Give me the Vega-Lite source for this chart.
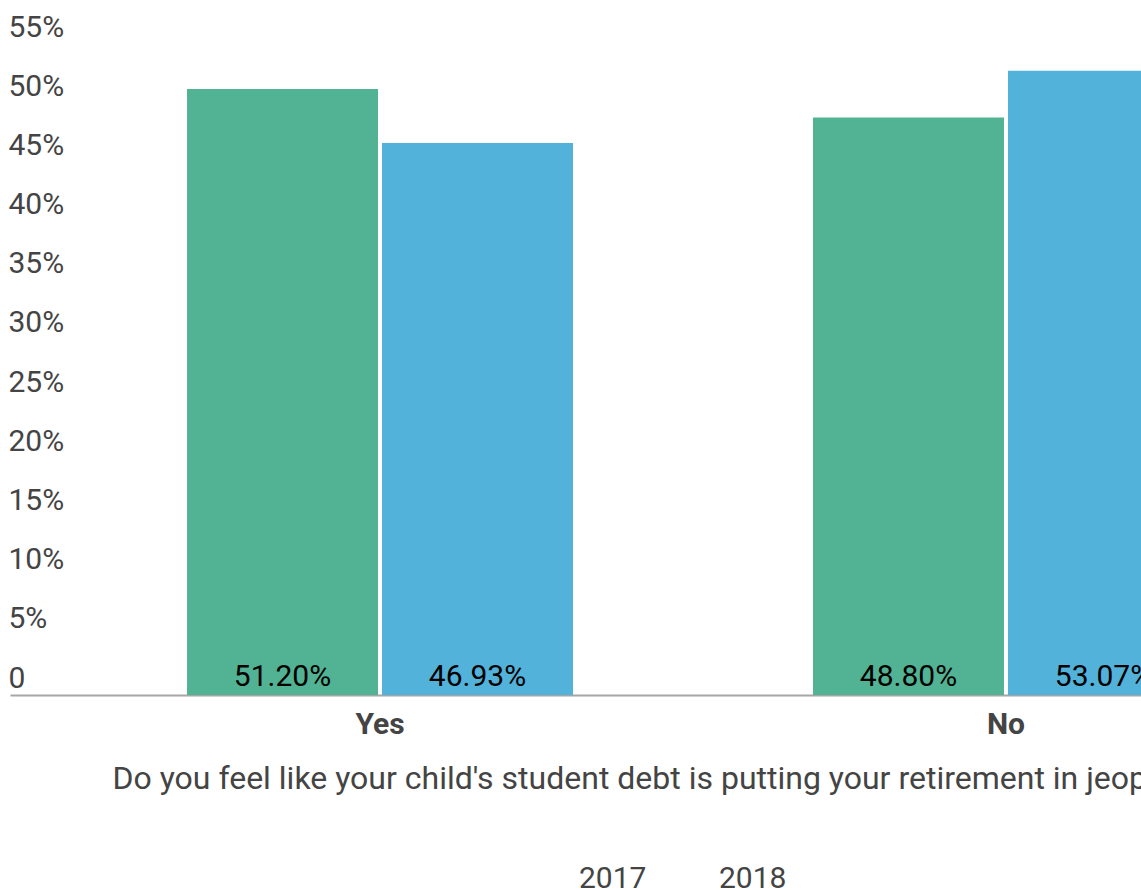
{
  "$schema": "https://vega.github.io/schema/vega-lite/v6.json",
  "width": 1131,
  "height": 651,
  "autosize": {"type": "none"},
  "padding": {"left": 10, "top": 44, "right": 0, "bottom": 195},
  "background": "white",
  "config": {
    "font": "Roboto",
    "view": {"stroke": null}
  },
  "data": {
    "values": [
      {"answer": "Yes", "year": "2017", "value": 0.512, "label": "51.20%"},
      {"answer": "Yes", "year": "2018", "value": 0.4664, "label": "46.93%"},
      {"answer": "No", "year": "2017", "value": 0.488, "label": "48.80%"},
      {"answer": "No", "year": "2018", "value": 0.5273, "label": "53.07%"}
    ]
  },
  "encoding": {
    "x": {
      "field": "answer",
      "type": "nominal",
      "sort": ["Yes", "No"],
      "scale": {"range": [0, 1366], "paddingInner": 0.3834, "paddingOuter": 0.2828},
      "axis": {
        "title": "Do you feel like your child's student debt is putting your retirement in jeopardy?",
        "titleFontSize": 32,
        "titleFontWeight": "normal",
        "titleColor": "#444444",
        "titleAnchor": "start",
        "titleAlign": "left",
        "titleX": 102,
        "titlePadding": 24,
        "labelAngle": 0,
        "labelFontSize": 30,
        "labelFontWeight": "bold",
        "labelColor": "#444444",
        "labelPadding": 14,
        "ticks": false,
        "domain": true,
        "domainColor": "#a6a6a6",
        "domainWidth": 2,
        "grid": false
      }
    },
    "xOffset": {
      "field": "year",
      "type": "nominal",
      "scale": {"paddingInner": 0.0205, "paddingOuter": 0}
    }
  },
  "layer": [
    {
      "mark": {"type": "bar"},
      "encoding": {
        "y": {
          "field": "value",
          "type": "quantitative",
          "scale": {"domain": [0, 0.55], "nice": false},
          "axis": {
            "title": null,
            "values": [0, 0.05, 0.1, 0.15, 0.2, 0.25, 0.3, 0.35, 0.4, 0.45, 0.5, 0.55],
            "labelExpr": "datum.value == 0 ? '0' : format(datum.value, '.0%')",
            "labelAlign": "left",
            "labelBaseline": "alphabetic",
            "labelOffset": -8,
            "labelPadding": 2,
            "labelFontSize": 30,
            "labelColor": "#444444",
            "ticks": false,
            "domain": false,
            "grid": false
          }
        },
        "color": {
          "field": "year",
          "type": "nominal",
          "scale": {"domain": ["2017", "2018"], "range": ["#51b393", "#52b2da"]},
          "legend": {
            "title": null,
            "orient": "none",
            "direction": "horizontal",
            "legendX": 539,
            "legendY": 820,
            "symbolSize": 0,
            "symbolOpacity": 0,
            "symbolStrokeWidth": 0,
            "labelOffset": 0,
            "labelFontSize": 30,
            "labelColor": "#444444",
            "columnPadding": 42
          }
        }
      }
    },
    {
      "mark": {"type": "text", "fontSize": 30, "color": "#000000", "baseline": "alphabetic", "dy": -9},
      "encoding": {
        "y": {"datum": 0},
        "text": {"field": "label", "type": "nominal"}
      }
    }
  ]
}
